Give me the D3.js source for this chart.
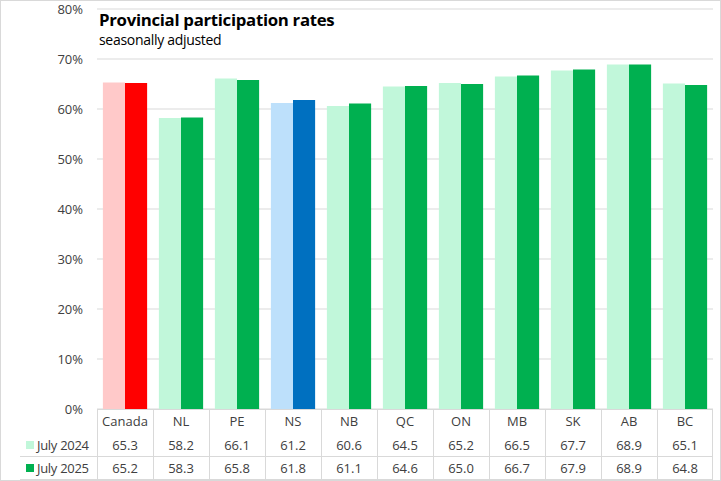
<!DOCTYPE html>
<html><head><meta charset="utf-8">
<script src="https://cdn.jsdelivr.net/npm/d3@7"></script>
<style>body{margin:0;background:#fff}svg{display:block}</style>
</head><body>
<script>
const categories = ["Canada","NL","PE","NS","NB","QC","ON","MB","SK","AB","BC"];
const seriesNames = ["July 2024","July 2025"];
const july2024 = [65.3,58.2,66.1,61.2,60.6,64.5,65.2,66.5,67.7,68.9,65.1];
const july2025 = [65.2,58.3,65.8,61.8,61.1,64.6,65.0,66.7,67.9,68.9,64.8];
const yTicks = [0,10,20,30,40,50,60,70,80];

const W=721,H=481;
const svg=d3.select("body").append("svg").attr("width",W).attr("height",H);
const font="'Open Sans', 'Noto Sans', sans-serif";
svg.append("rect").attr("x",0.5).attr("y",0.5).attr("width",W-1).attr("height",H-1).attr("fill","#fff").attr("stroke","#d9d9d9");

const x0=d3.scaleBand().domain(categories).range([97,713]).paddingInner(0.21).paddingOuter(0.105);
const xb=d3.scaleBand().domain(categories).range([97,713]);
const x1=d3.scaleBand().domain([0,1]).range([0,x0.bandwidth()]);
const y=d3.scaleLinear().domain([0,80]).range([409,9]);

const grid=svg.append("g");
yTicks.forEach(t=>{
  grid.append("line").attr("x1",97).attr("x2",713).attr("y1",y(t)).attr("y2",y(t)).attr("stroke","#d9d9d9").attr("stroke-width",1);
});
const yAxis=d3.axisLeft(y).tickValues(yTicks).tickFormat(d=>d+"%").tickSize(0).tickPadding(14);
const ga=svg.append("g").attr("transform","translate(97,0)").call(yAxis);
ga.select(".domain").remove();
ga.selectAll("text").attr("font-family",font).attr("font-size",13).attr("fill","#404040");

function colors(c){
  if(c==="Canada") return ["#ffc9c9","#ff0000"];
  if(c==="NS") return ["#bde0fb","#0070c0"];
  return ["#c1f7da","#00b050"];
}
const data=[july2024,july2025];
const bars=svg.append("g");
categories.forEach((c,i)=>{
  data.forEach((s,j)=>{
    bars.append("rect").attr("x",x0(c)+x1(j)).attr("width",x1.bandwidth())
      .attr("y",y(s[i])).attr("height",y(0)-y(s[i])).attr("fill",colors(c)[j]);
  });
});

// title
svg.append("text").attr("x",99).attr("y",26).attr("font-family",font).attr("font-weight","bold").attr("font-size",16.8).attr("fill","#000").attr("letter-spacing","-0.3").text("Provincial participation rates");
svg.append("text").attr("x",99).attr("y",45).attr("font-family",font).attr("font-size",14).attr("fill","#000").attr("letter-spacing","-0.3").text("seasonally adjusted");

// data table
const tg=svg.append("g");
const lc="#d9d9d9";
tg.append("line").attr("x1",97).attr("x2",713).attr("y1",409.5).attr("y2",409.5).attr("stroke",lc);
tg.append("line").attr("x1",20).attr("x2",713).attr("y1",456.5).attr("y2",456.5).attr("stroke",lc);
tg.append("line").attr("x1",20).attr("x2",713).attr("y1",479.5).attr("y2",479.5).attr("stroke",lc);
categories.forEach((c,i)=>{
  tg.append("line").attr("x1",xb(c)+0.5).attr("x2",xb(c)+0.5).attr("y1",409).attr("y2",480).attr("stroke",lc);
});
tg.append("line").attr("x1",712.5).attr("x2",712.5).attr("y1",409).attr("y2",480).attr("stroke",lc);
const rowY=[421,445,468];
categories.forEach((c,i)=>{
  const cx=xb(c)+xb.bandwidth()/2;
  tg.append("text").attr("x",cx).attr("y",rowY[0]).attr("dy","0.35em").attr("text-anchor","middle").attr("font-family",font).attr("font-size",13).attr("fill","#404040").text(c);
  data.forEach((s,j)=>{
    tg.append("text").attr("x",cx).attr("y",rowY[j+1]).attr("dy","0.35em").attr("text-anchor","middle").attr("font-family",font).attr("font-size",13).attr("fill","#404040").text(s[i].toFixed(1));
  });
});
seriesNames.forEach((n,j)=>{
  tg.append("rect").attr("x",26).attr("y",rowY[j+1]-4).attr("width",8).attr("height",8).attr("fill",colors("NL")[j]);
  tg.append("text").attr("x",37).attr("y",rowY[j+1]).attr("dy","0.35em").attr("font-family",font).attr("font-size",13).attr("fill","#404040").attr("letter-spacing","-0.3").text(n);
});
</script>
</body></html>
